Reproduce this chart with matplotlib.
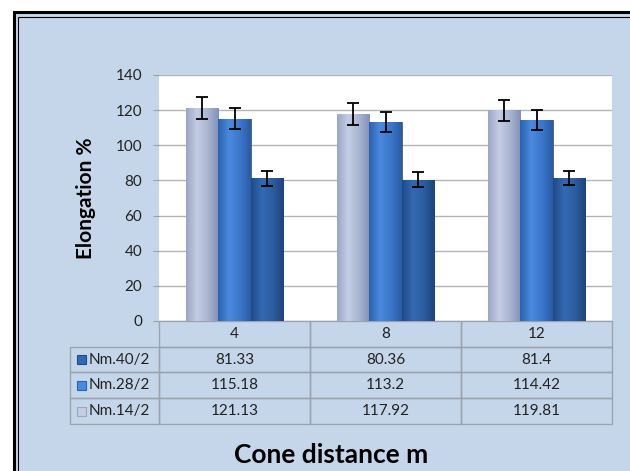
import matplotlib
matplotlib.use("Agg")
import matplotlib.pyplot as plt
import numpy as np
from matplotlib.colors import LinearSegmentedColormap
from matplotlib.patches import Rectangle

plt.rcParams['font.family'] = ['Lato', 'DejaVu Sans']

# data
categories = ['4', '8', '12']
series = ['Nm.14/2', 'Nm.28/2', 'Nm.40/2']
nm14 = [121.13, 117.92, 119.81]
nm28 = [115.18, 113.2, 114.42]
nm40 = [81.33, 80.36, 81.4]
err14 = [6.2, 6.1, 6.1]
err28 = [5.8, 5.6, 5.7]
err40 = [4.3, 4.2, 4.2]

values = [nm14, nm28, nm40]
errors = [err14, err28, err40]
grads = [
    ['#9aa6c4', '#c4cde3', '#a9b5d2', '#8391b6'],
    ['#2d62ad', '#4a8ade', '#3b78cc', '#2a5ba3'],
    ['#1f4a88', '#3469b2', '#2c5d9f', '#1d447e'],
]

bg = '#c6d6ea'
fig = plt.figure(figsize=(6.3, 4.71), dpi=100)
fig.patch.set_facecolor('white')

# outer panel with double border
fig.patches.append(Rectangle((14/630, -0.05), 1.0, 1 - 12/471 + 0.05, transform=fig.transFigure,
                             facecolor=bg, edgecolor='black', linewidth=2.2, zorder=-10))
fig.patches.append(Rectangle((18/630, -0.05), 1.0, 1 - 17/471 + 0.05, transform=fig.transFigure,
                             facecolor='none', edgecolor='black', linewidth=0.8, zorder=-10))

ax = fig.add_axes([159/630, 1 - 321/471, 453/630, 246/471])
ax.set_facecolor('white')
for s in ax.spines.values():
    s.set_visible(False)

x = np.arange(len(categories))
w = 0.212
offsets = [-w, 0, w]
for vals, errs, off, g in zip(values, errors, offsets, grads):
    bars = ax.bar(x + off, vals, width=w, color=g[2], edgecolor='#4a5a7a', linewidth=0.6, zorder=3)
    cmap = LinearSegmentedColormap.from_list('g', g)
    grad = np.linspace(0, 1, 64).reshape(1, -1)
    for b in bars:
        x0, y0 = b.get_x(), b.get_y()
        im = ax.imshow(grad, cmap=cmap, extent=(x0, x0 + b.get_width(), y0, y0 + b.get_height()),
                       aspect='auto', zorder=3.5)
        im.set_clip_path(b)
    ax.errorbar(x + off, vals, yerr=errs, fmt='none', ecolor='black', elinewidth=1.3,
                capsize=4, capthick=1.3, zorder=5)

ax.set_xlim(-0.5, 2.5)
ax.set_ylim(0, 140)
ax.set_yticks(range(0, 141, 20))
ax.set_yticklabels([str(v) for v in range(0, 141, 20)], fontsize=11, color='#222222')
ax.tick_params(axis='y', length=4, color='#a0a0a0', pad=8)
ax.set_xticks([])
ax.grid(axis='y', color='#b4b4b4', linewidth=1.0, zorder=0)
ax.set_axisbelow(True)
ax.set_ylabel('Elongation %', fontsize=15, fontweight='bold', labelpad=14)

# data table under the plot
lab_w = 89 / 453
tab_h = 103 / 246
cell_text = [[''] + categories]
for name, vals in zip(series[::-1], values[::-1]):
    cell_text.append([name] + [f'{v:g}' for v in vals])
tab = ax.table(cellText=cell_text, bbox=[-lab_w, -tab_h, 1 + lab_w, tab_h],
               colWidths=[lab_w, 1/3, 1/3, 1/3], cellLoc='center')
tab.auto_set_font_size(False)
tab.set_fontsize(11)
for (r, c), cell in tab.get_celld().items():
    cell.set_facecolor('none')
    cell.set_edgecolor('#9aa3b0')
    cell.set_linewidth(1.0)
    cell.get_text().set_color('#222222')
    if c == 0:
        cell.get_text().set_ha('left')
        cell._loc = 'left'
        cell.PAD = 0.21
    if r == 0 and c == 0:
        cell.visible_edges = ''

# legend keys in the row labels
row_h = 103 / 4
for i, g in enumerate(grads[::-1]):
    yc = 321 + row_h * (i + 1.5)
    fig.patches.append(Rectangle((77/630, 1 - (yc + 4.5)/471), 9/630, 9/471, transform=fig.transFigure,
                                 facecolor=g[1], edgecolor=g[0], linewidth=0.8, zorder=5))

fig.text(331/630, 1 - 455/471, 'Cone distance m', fontsize=19, fontweight='bold',
         ha='center', va='center')

fig.savefig('out.png', dpi=100, facecolor=fig.get_facecolor())
